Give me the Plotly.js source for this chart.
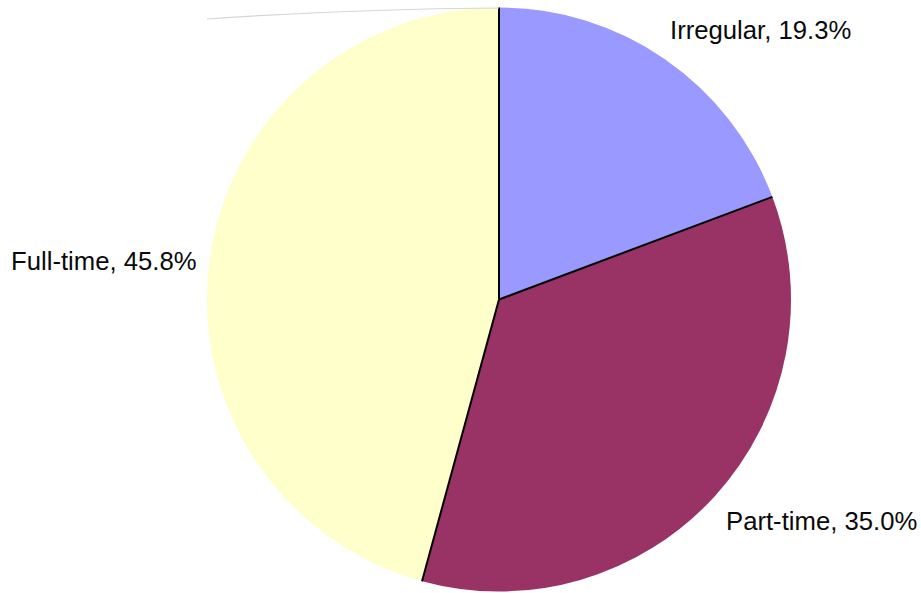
<!DOCTYPE html>
<html><head><meta charset="utf-8">
<script src="https://cdn.plot.ly/plotly-3.0.1.min.js"></script>
<style>html,body{margin:0;padding:0;background:#fff}</style>
</head><body><div id="chart" style="width:921px;height:593px"></div>
<script>
const categories = ["Irregular", "Part-time", "Full-time"];
const values = [19.3, 35.0, 45.8];
const colors = ["#9999FF", "#993366", "#FFFFCC"];
const labelText = ["Irregular, 19.3%", "Part-time, 35.0%", "Full-time, 45.8%"];

const W = 921, H = 593;
const cx = 499, cy = 299.5, R = 292;
const px = x => x / W, py = y => 1 - y / H;

const total = values.reduce((a, b) => a + b, 0);
const shapes = [];
let cum = 0;
for (let i = 0; i < values.length; i++) {
  const ang = cum / total * 2 * Math.PI;
  shapes.push({type: "line", xref: "paper", yref: "paper",
    x0: px(cx), y0: py(cy),
    x1: px(cx + R * Math.sin(ang)), y1: py(cy - R * Math.cos(ang)),
    line: {color: "#000", width: 2}});
  cum += values[i];
}
// faint artifact arc at top-left
shapes.push({type: "path", xref: "paper", yref: "paper",
  path: `M ${px(207)},${py(19)} Q ${px(350)},${py(9)} ${px(499)},${py(8)}`,
  line: {color: "#d6d6d6", width: 1.2}});

const labelPos = [
  {x: 668, y: 30},
  {x: 724, y: 521},
  {x: 9, y: 261}
];
const annotations = labelText.map((t, i) => ({
  text: t, xref: "paper", yref: "paper",
  x: px(labelPos[i].x), y: py(labelPos[i].y),
  xanchor: "left", yanchor: "middle", showarrow: false,
  font: {family: "Liberation Sans, Arial, sans-serif", size: 25.7, color: "#0a0a0a"}
}));

const trace = {
  type: "pie", labels: categories, values: values,
  marker: {colors: colors, line: {width: 0}},
  sort: false, direction: "clockwise", rotation: 0,
  textinfo: "none", hoverinfo: "label+percent",
  domain: {x: [px(cx - 320), px(cx + 320)], y: [py(cy + R), py(cy - R)]}
};

Plotly.newPlot("chart", [trace], {
  width: W, height: H, margin: {l: 0, r: 0, t: 0, b: 0},
  paper_bgcolor: "#fff", showlegend: false,
  shapes: shapes, annotations: annotations
}, {displayModeBar: false, staticPlot: true});
</script></body></html>
